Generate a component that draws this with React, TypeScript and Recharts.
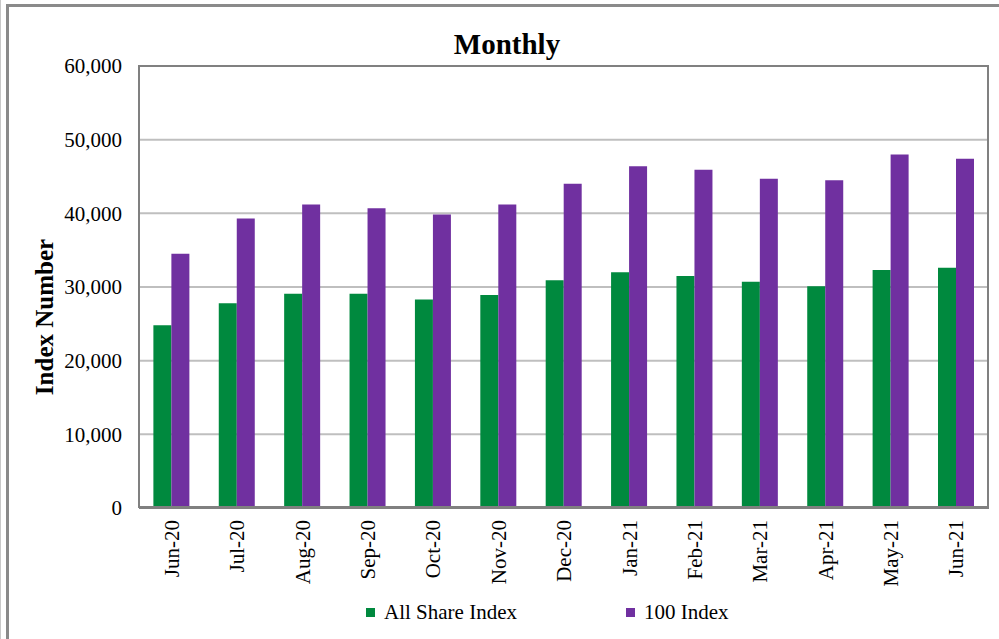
import React from "react";
import { Bar, BarChart, CartesianGrid, Legend, XAxis, YAxis } from "recharts";

const months = [
  "Jun-20", "Jul-20", "Aug-20", "Sep-20", "Oct-20", "Nov-20", "Dec-20",
  "Jan-21", "Feb-21", "Mar-21", "Apr-21", "May-21", "Jun-21",
];
const allShare = [24800, 27800, 29100, 29100, 28300, 28900, 30900, 32000, 31500, 30700, 30100, 32300, 32600];
const index100 = [34500, 39300, 41200, 40700, 39850, 41200, 44000, 46400, 45900, 44700, 44500, 48000, 47400];
const yTicks = [0, 10000, 20000, 30000, 40000, 50000, 60000];

const data = months.map((m, i) => ({ month: m, allShare: allShare[i], index100: index100[i] }));

const GREEN = "#00893e";
const PURPLE = "#7030a0";
const FONT = "'Liberation Serif', 'Times New Roman', serif";

const fmt = (v: number) => v.toLocaleString("en-US");

const XTick = (props: any) => {
  const { x, y, payload } = props;
  return (
    <text
      x={x}
      y={y}
      transform={`rotate(-90 ${x} ${y})`}
      textAnchor="end"
      dy="0.34em"
      fontSize={21}
      fontFamily={FONT}
      fill="#000"
    >
      {payload.value}
    </text>
  );
};

const LegendBox = () => (
  <div style={{ position: "relative", height: 41, fontFamily: FONT, fontSize: 21, color: "#000" }}>
    {[
      { label: "All Share Index", color: GREEN, left: 366 },
      { label: "100 Index", color: PURPLE, left: 626 },
    ].map((it) => (
      <div key={it.label} style={{ position: "absolute", left: it.left, top: 2, display: "flex", alignItems: "center", whiteSpace: "nowrap" }}>
        <span style={{ width: 9, height: 9, background: it.color, marginRight: 9, display: "inline-block" }} />
        <span>{it.label}</span>
      </div>
    ))}
  </div>
);

export default function App() {
  return (
    <div style={{ position: "absolute", left: 0, top: 0, width: 999, height: 639, background: "#fff", overflow: "hidden" }}>
      <div style={{ position: "absolute", left: 0, top: 0, width: 1, height: 639, background: "#c8c8c8" }} />
      <div style={{ position: "absolute", left: 6, top: 4, width: 1000, height: 700, borderTop: "3px solid #8a8a8a", borderLeft: "3px solid #8a8a8a" }} />
      <BarChart
        width={999}
        height={639}
        data={data}
        margin={{ top: 66, right: 10, bottom: 0, left: 0 }}
        barCategoryGap="22%"
        barGap={0}
      >
        <text x={507} y={54} textAnchor="middle" fontSize={29} fontWeight="bold" fontFamily={FONT} fill="#000">
          Monthly
        </text>
        <CartesianGrid vertical={false} stroke="#bfbfbf" strokeWidth={2} />
        <XAxis
          dataKey="month"
          height={90}
          interval={0}
          tickLine={false}
          tickMargin={6}
          axisLine={{ stroke: "#808080", strokeWidth: 2 }}
          tick={<XTick />}
        />
        <YAxis
          width={139}
          domain={[0, 60000]}
          ticks={yTicks}
          tickFormatter={fmt}
          tickLine={false}
          tickMargin={11}
          axisLine={{ stroke: "#808080", strokeWidth: 2 }}
          tick={{ fontSize: 21, fontFamily: FONT, fill: "#000" }}
          label={{
            content: () => (
              <text
                x={44}
                y={317}
                transform="rotate(-90 44 317)"
                textAnchor="middle"
                dy="0.34em"
                fontSize={25}
                fontWeight="bold"
                fontFamily={FONT}
                fill="#000"
              >
                Index Number
              </text>
            ),
          }}
        />
        <Legend verticalAlign="bottom" content={<LegendBox />} />
        <Bar dataKey="allShare" name="All Share Index" fill={GREEN} isAnimationActive={false} />
        <Bar dataKey="index100" name="100 Index" fill={PURPLE} isAnimationActive={false} />
      </BarChart>
      <div
        style={{
          position: "absolute",
          left: 138,
          top: 65,
          width: 851,
          height: 443,
          border: "2px solid #808080",
          boxSizing: "border-box",
          pointerEvents: "none",
        }}
      />
    </div>
  );
}
